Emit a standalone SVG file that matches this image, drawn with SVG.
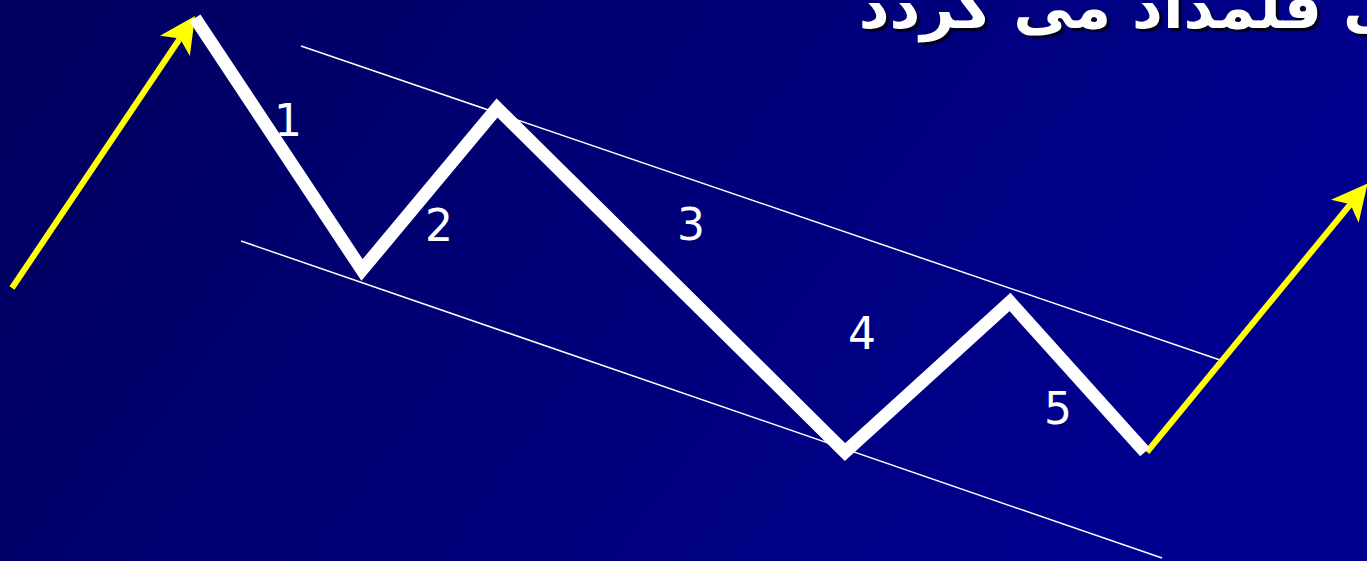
<svg xmlns="http://www.w3.org/2000/svg" width="1367" height="561" viewBox="0 0 1367 561">
<defs>
<linearGradient id="bg" x1="0" y1="0" x2="1" y2="0.3">
<stop offset="0" stop-color="#00005E"/>
<stop offset="1" stop-color="#00008F"/>
</linearGradient>
<marker id="ah" viewBox="0 0 10 10" refX="8" refY="5" markerWidth="6" markerHeight="6" orient="auto" markerUnits="strokeWidth">
<path d="M0,0 L10,5 L0,10 L2.5,5 z" fill="#FFFF00"/>
</marker>
<style>
.lab{font-family:"DejaVu Sans",Verdana,sans-serif;font-size:44px;fill:#FFFFFF;text-anchor:middle}
.title{font-family:"DejaVu Sans","Noto Sans",sans-serif;font-weight:bold;font-size:60px;text-anchor:end}
.thin{stroke:#FFFFFF;stroke-width:1.5;fill:none}
.wave{stroke:#FFFFFF;stroke-width:13;fill:none;stroke-linejoin:miter;stroke-miterlimit:10}
.yel{stroke:#FFFF00;stroke-width:6;fill:none}
</style>
</defs>
<rect width="1367" height="561" fill="url(#bg)"/>
<g id="title">
<text class="title" x="1401" y="31" fill="#000022">ی قلمداد می گردد</text>
<text class="title" x="1398" y="28" fill="#FFFFFF">ی قلمداد می گردد</text>
</g>
<g id="connectors">
<line class="thin" x1="301" y1="46" x2="1220" y2="360"/>
<line class="thin" x1="241" y1="241" x2="1162" y2="558"/>
<line class="yel" x1="12" y1="288" x2="191" y2="22" marker-end="url(#ah)"/>
<line class="yel" x1="1147" y1="452" x2="1363" y2="189" marker-end="url(#ah)"/>
<polyline class="wave" points="195,18 362,270 497,108 845,452 1010,302 1145,452"/>
</g>
<g id="labels">
<text class="lab" x="288" y="136">1</text>
<text class="lab" x="439" y="241">2</text>
<text class="lab" x="691" y="240">3</text>
<text class="lab" x="862" y="349">4</text>
<text class="lab" x="1058" y="424">5</text>
</g>
</svg>
